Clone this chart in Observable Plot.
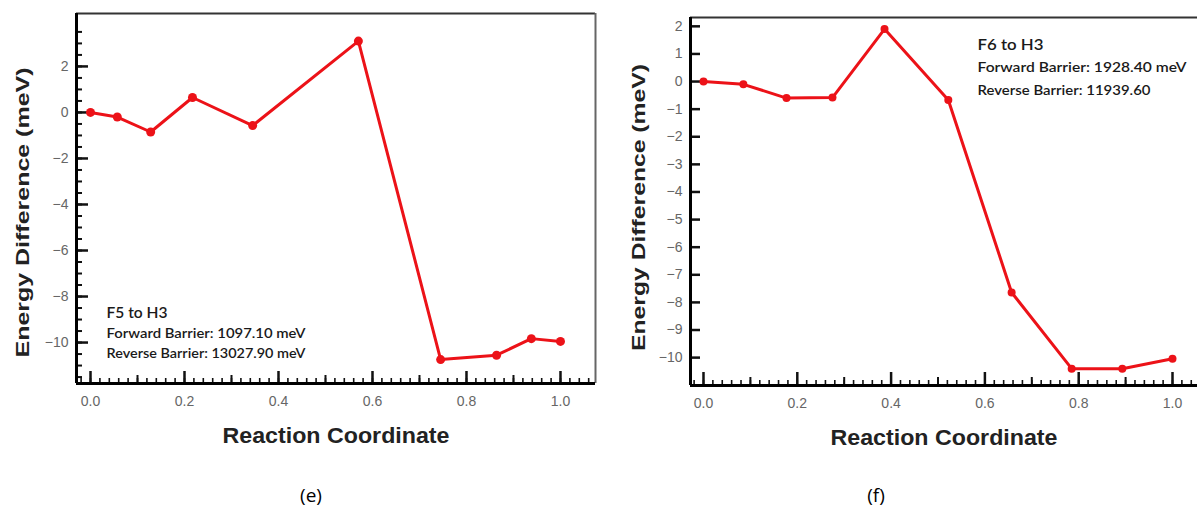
<!DOCTYPE html>
<html>
<head>
<meta charset="utf-8">
<script src="https://cdn.jsdelivr.net/npm/d3@7"></script>
<script src="https://cdn.jsdelivr.net/npm/@observablehq/plot@0.6"></script>
<style>
  html, body { margin: 0; padding: 0; background: #fff; overflow: hidden; width: 1197px; height: 509px; }
  #wrap { position: relative; width: 1197px; height: 509px; }
  .panel { position: absolute; top: 0; }
  .cap { position: absolute; font-family: "Open Sans", sans-serif; font-size: 19px; color: #000; transform: translateX(-50%); }
</style>
</head>
<body>
<div id="wrap">
  <div id="pe" class="panel" style="left:0px"></div>
  <div id="pf" class="panel" style="left:620px"></div>
  <div class="cap" style="left:311px; top:482px">(e)</div>
  <div class="cap" style="left:876px; top:482px">(f)</div>
</div>
<script>
// ---- Data ----
const coordE = [0, 0.057, 0.128, 0.217, 0.345, 0.570, 0.745, 0.864, 0.938, 1.0];
const energyE = [0, -0.2, -0.85, 0.65, -0.57, 3.1, -10.74, -10.55, -9.83, -9.95];
const coordF = [0, 0.085, 0.177, 0.275, 0.386, 0.522, 0.657, 0.785, 0.893, 1.0];
const energyF = [0, -0.1, -0.6, -0.58, 1.9, -0.67, -7.64, -10.4, -10.4, -10.04];

const xMajorTicks = [0, 0.2, 0.4, 0.6, 0.8, 1.0];
const xMidTicks = [0.1, 0.3, 0.5, 0.7, 0.9];
const xMinorTicks = d3.range(-1, 54).map(i => i * 0.02);
const yMajorE = [-10, -8, -6, -4, -2, 0, 2];
const yMinorE = d3.range(-23, 8).map(i => i * 0.5);
const yMajorF = [-10, -9, -8, -7, -6, -5, -4, -3, -2, -1, 0, 1, 2];

const annotE = ["F5 to H3", "Forward Barrier: 1097.10 meV", "Reverse Barrier: 13027.90 meV"];
const annotF = ["F6 to H3", "Forward Barrier: 1928.40 meV", "Reverse Barrier: 11939.60"];
const xLabel = "Reaction Coordinate";
const yLabel = "Energy Difference (meV)";

const RED = "#ec1218";
const annFont = "Lato, 'Noto Sans', sans-serif";
const axFont = "Arial, 'Liberation Sans', sans-serif";

function stretch(svg, text, len) {
  svg.querySelectorAll("text").forEach(t => {
    if (t.textContent === text) { t.setAttribute("textLength", String(len)); t.setAttribute("lengthAdjust", "spacingAndGlyphs"); }
  });
}

function panel(cfg) {
  const {xs, ys, xDom, yDom, width, height, mL, mR, mT, mB, yMajor, yMinor, annot, annAnchor, annDx, annDy, rightBorder, yMajLen, yMinLen, xMajLen, ylabDx, ylabDy, xlabDy, dotR} = cfg;
  const pxX = (width - mL - mR) / (xDom[1] - xDom[0]);
  const pxY = (height - mT - mB) / (yDom[1] - yDom[0]);
  const data = xs.map((x, i) => ({x, y: ys[i]}));
  const annStyle = {frameAnchor: annAnchor, dx: annDx, textAnchor: "start", lineAnchor: "middle", fontFamily: annFont, fontWeight: 600, fill: "#1a1a1a"};
  const marks = [
    // tick marks pointing inward
    Plot.ruleY(yMajor, {y: d => d, x1: xDom[0], x2: xDom[0] + yMajLen / pxX, stroke: "#111", strokeWidth: 2.5}),
    yMinor ? Plot.ruleY(yMinor, {y: d => d, x1: xDom[0], x2: xDom[0] + yMinLen / pxX, stroke: "#111", strokeWidth: 2}) : null,
    Plot.ruleX(xMajorTicks, {x: d => d, y1: yDom[0], y2: yDom[0] + xMajLen / pxY, stroke: "#111", strokeWidth: 2.5}),
    Plot.ruleX(xMidTicks, {x: d => d, y1: yDom[0], y2: yDom[0] + 8 / pxY, stroke: "#111", strokeWidth: 2}),
    Plot.ruleX(xMinorTicks, {x: d => d, y1: yDom[0], y2: yDom[0] + 5 / pxY, stroke: "#111", strokeWidth: 1.6}),
    // frame
    Plot.ruleY([yDom[1]], {stroke: "#333", strokeWidth: 2}),
    rightBorder ? Plot.ruleX([xDom[1]], {stroke: "#666", strokeWidth: 2}) : null,
    Plot.ruleX([xDom[0]], {stroke: "#000", strokeWidth: 3}),
    Plot.ruleY([yDom[0]], {stroke: "#000", strokeWidth: 3}),
    // tick labels
    Plot.axisY({ticks: yMajor, tickSize: 0, tickPadding: 8, label: null, fill: "#666", fontSize: 14, fontFamily: axFont}),
    Plot.axisX({ticks: xMajorTicks, tickSize: 0, tickPadding: 13, label: null, tickFormat: d3.format(".1f"), fill: "#666", fontSize: 14, fontFamily: axFont}),
    // data
    Plot.line(data, {x: "x", y: "y", stroke: RED, strokeWidth: 3, strokeLinejoin: "round"}),
    Plot.dot(data, {x: "x", y: "y", r: dotR, fill: RED}),
    // annotations
    Plot.text([annot[0]], {...annStyle, dy: annDy[0], fontSize: 16}),
    Plot.text([annot[1]], {...annStyle, dy: annDy[1], fontSize: 14}),
    Plot.text([annot[2]], {...annStyle, dy: annDy[2], fontSize: 14}),
    // axis titles
    Plot.text([xLabel], {frameAnchor: "bottom", dy: xlabDy, textAnchor: "middle", lineAnchor: "middle", fontSize: 22, fontWeight: "bold", fontFamily: axFont, fill: "#222"}),
    Plot.text([yLabel], {frameAnchor: "left", dx: ylabDx, dy: ylabDy, textAnchor: "middle", lineAnchor: "middle", rotate: -90, fontSize: 19, fontWeight: "bold", fontFamily: axFont, fill: "#222"})
  ].filter(Boolean);
  const svg = Plot.plot({
    width, height,
    marginLeft: mL, marginRight: mR, marginTop: mT, marginBottom: mB,
    x: {domain: xDom, label: null},
    y: {domain: yDom, label: null},
    style: {overflow: "visible", background: "transparent"},
    marks
  });
  stretch(svg, xLabel, 227);
  stretch(svg, yLabel, cfg.ylabLen);
  stretch(svg, annot[0], cfg.annLen[0]);
  stretch(svg, annot[1], cfg.annLen[1]);
  stretch(svg, annot[2], cfg.annLen[2]);
  return svg;
}

document.getElementById("pe").appendChild(panel({
  xs: coordE, ys: energyE,
  xDom: [-0.0298, 1.0745], yDom: [-11.78, 4.30],
  width: 610, height: 450, mL: 76, mR: 15, mT: 13, mB: 67,
  yMajor: yMajorE, yMinor: yMinorE,
  annot: annotE, annAnchor: "bottom-left", annDx: 30, annDy: [-71, -50, -30], annLen: [61, 199, 199],
  rightBorder: true, yMajLen: 12, yMinLen: 6, xMajLen: 12,
  ylabDx: -54, ylabDy: 14, ylabLen: 290, xlabDy: 52, dotR: 4.5
}));

document.getElementById("pf").appendChild(panel({
  xs: coordF, ys: energyF,
  xDom: [-0.0277, 1.0533], yDom: [-11.01, 2.32],
  width: 577, height: 450, mL: 70, mR: 0, mT: 17, mB: 65,
  yMajor: yMajorF, yMinor: null,
  annot: annotF, annAnchor: "top-left", annDx: 287, annDy: [27, 50, 73], annLen: [66, 209, 173],
  rightBorder: false, yMajLen: 10, yMinLen: 0, xMajLen: 13,
  ylabDx: -52, ylabDy: 6, ylabLen: 287, xlabDy: 52, dotR: 4
}));
</script>
</body>
</html>
